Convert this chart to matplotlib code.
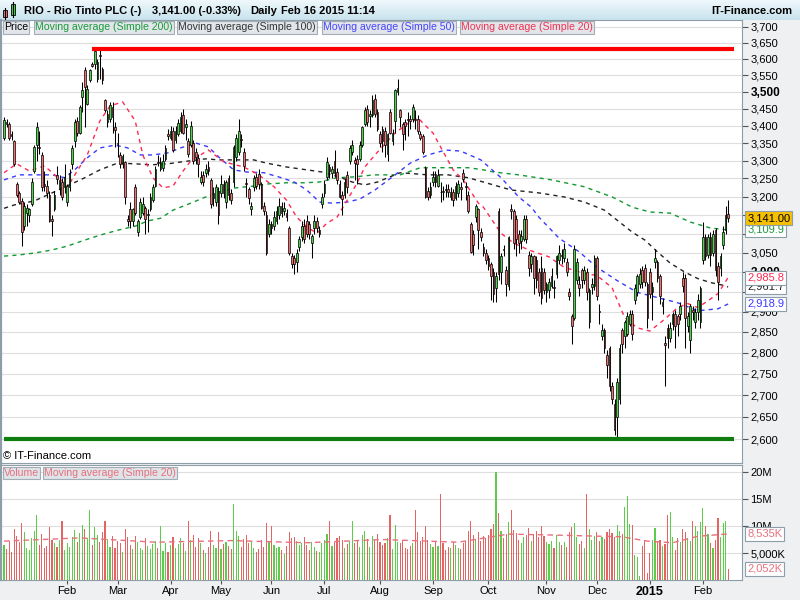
import numpy as np
import matplotlib.pyplot as plt
from matplotlib.colors import LinearSegmentedColormap
from matplotlib.patches import Rectangle

plt.rcParams['font.family'] = ['Liberation Sans', 'DejaVu Sans']

# ── PRICE DATA (one candle per trading day, late Dec 2013 → 16 Feb 2015) ──
opens = [
    3365, 3410, 3405, 3375, 3355, 3235, 3210, 3188, 3120, 3155, 3150, 3180,
    3270, 3345, 3340, 3315, 3235, 3228, 3205, 3138, 3165, 3260, 3220, 3240,
    3225, 3185, 3225, 3290, 3355, 3415, 3380, 3485, 3565, 3465, 3535, 3585,
    3583, 3540, 3612, 3570, 3475, 3410, 3420, 3455, 3395, 3350, 3315, 3290,
    3295, 3138, 3165, 3135, 3225, 3105, 3145, 3155, 3170, 3150, 3165, 3190,
    3230, 3295, 3275, 3278, 3305, 3375, 3365, 3385, 3360, 3375, 3385, 3430,
    3395, 3355, 3345, 3350, 3325, 3308, 3240, 3260, 3265, 3282, 3245, 3195,
    3185, 3215, 3210, 3235, 3185, 3250, 3210, 3240, 3310, 3325, 3362, 3325,
    3237, 3220, 3165, 3225, 3255, 3262, 3235, 3175, 3150, 3100, 3125, 3120,
    3135, 3150, 3175, 3160, 3155, 3115, 3040, 3035, 3025, 3065, 3090, 3120,
    3135, 3125, 3075, 3115, 3135, 3100, 3180, 3210, 3255, 3282, 3265, 3300,
    3268, 3235, 3205, 3205, 3260, 3300, 3325, 3302, 3305, 3305, 3345, 3405,
    3450, 3428, 3430, 3480, 3440, 3375, 3390, 3385, 3320, 3440, 3355, 3415,
    3500, 3445, 3405, 3410, 3420, 3420, 3420, 3420, 3420, 3375, 3370, 3280,
    3215, 3205, 3240, 3262, 3230, 3213, 3215, 3222, 3222, 3200, 3212, 3195,
    3210, 3225, 3265, 3228, 3205, 3125, 3100, 3145, 3165, 3105, 3065, 3050,
    3035, 3020, 3000, 2960, 3160, 3000, 3060, 3005, 2965, 3165, 3160, 3140,
    3100, 3080, 3085, 3140, 3045, 3020, 3040, 3030, 3000, 3010, 3000, 2950,
    2955, 2965, 2962, 2995, 3030, 3045, 3035, 3025, 2948, 2888, 2885, 2980,
    2970, 3005, 2980, 3000, 2875, 2962, 2965, 3035, 2902, 2840, 2855, 2795,
    2810, 2720, 2680, 2650, 2690, 2855, 2840, 2845, 2870, 2895, 2930, 2950,
    2970, 3005, 3010, 2970, 3000, 2950, 3025, 3025, 2990, 2915, 2822, 2860,
    2835, 2870, 2895, 2890, 2895, 2985, 2985, 2865, 2830, 2905, 2875, 2900,
    2875, 3030, 3090, 3045, 3090, 3050, 3110, 3015, 3010, 3070, 3110, 3152,
]
highs = [
    3425, 3420, 3410, 3385, 3360, 3240, 3215, 3195, 3185, 3180, 3170, 3250,
    3345, 3410, 3385, 3325, 3270, 3245, 3215, 3150, 3215, 3285, 3260, 3250,
    3290, 3235, 3275, 3345, 3420, 3425, 3460, 3530, 3575, 3520, 3570, 3590,
    3635, 3600, 3630, 3575, 3480, 3445, 3470, 3470, 3410, 3380, 3325, 3320,
    3300, 3150, 3185, 3170, 3235, 3140, 3195, 3200, 3175, 3165, 3210, 3235,
    3285, 3315, 3310, 3320, 3345, 3390, 3400, 3395, 3400, 3420, 3440, 3450,
    3420, 3365, 3415, 3360, 3335, 3320, 3270, 3270, 3290, 3300, 3250, 3225,
    3235, 3225, 3260, 3245, 3245, 3260, 3220, 3345, 3375, 3420, 3375, 3335,
    3250, 3225, 3185, 3260, 3265, 3275, 3240, 3185, 3160, 3140, 3135, 3160,
    3175, 3195, 3185, 3185, 3165, 3120, 3050, 3045, 3060, 3095, 3135, 3140,
    3150, 3135, 3100, 3150, 3145, 3120, 3210, 3245, 3310, 3290, 3285, 3330,
    3280, 3245, 3215, 3250, 3270, 3345, 3360, 3310, 3315, 3355, 3400, 3455,
    3460, 3445, 3490, 3495, 3450, 3385, 3400, 3395, 3380, 3450, 3390, 3510,
    3540, 3450, 3410, 3420, 3440, 3430, 3465, 3445, 3430, 3385, 3375, 3285,
    3225, 3240, 3270, 3270, 3275, 3240, 3230, 3235, 3235, 3225, 3220, 3240,
    3245, 3240, 3275, 3240, 3215, 3130, 3110, 3180, 3170, 3115, 3075, 3060,
    3045, 3025, 3010, 3000, 3170, 3050, 3070, 3015, 3095, 3180, 3165, 3150,
    3110, 3110, 3150, 3150, 3055, 3050, 3045, 3040, 3010, 3040, 3010, 2975,
    2985, 3010, 2980, 3045, 3070, 3060, 3075, 3035, 2960, 2895, 3070, 3035,
    2990, 3010, 3015, 3010, 2960, 2985, 3045, 3040, 2920, 2870, 2860, 2805,
    2815, 2730, 2690, 2740, 2820, 2860, 2880, 2900, 2905, 2905, 2970, 2995,
    3010, 3015, 3020, 2975, 3010, 2975, 3060, 3030, 2995, 2935, 2840, 2870,
    2875, 2900, 2905, 2895, 2925, 3000, 2995, 2900, 2920, 2915, 2910, 2945,
    2965, 3130, 3100, 3100, 3105, 3110, 3115, 3025, 3050, 3120, 3175, 3190,
]
lows = [
    3360, 3395, 3360, 3360, 3285, 3200, 3180, 3068, 3110, 3120, 3130, 3175,
    3265, 3300, 3320, 3215, 3215, 3195, 3130, 3095, 3160, 3235, 3205, 3190,
    3210, 3175, 3215, 3275, 3340, 3370, 3375, 3440, 3395, 3460, 3530, 3575,
    3570, 3530, 3540, 3525, 3440, 3395, 3410, 3380, 3340, 3310, 3280, 3280,
    3180, 3120, 3115, 3120, 3150, 3095, 3140, 3150, 3100, 3105, 3160, 3185,
    3225, 3285, 3270, 3270, 3300, 3360, 3360, 3325, 3350, 3370, 3380, 3375,
    3360, 3310, 3340, 3290, 3290, 3255, 3235, 3230, 3255, 3260, 3170, 3175,
    3175, 3125, 3200, 3195, 3170, 3190, 3180, 3225, 3300, 3315, 3340, 3270,
    3200, 3180, 3150, 3215, 3220, 3220, 3165, 3150, 3045, 3090, 3100, 3110,
    3125, 3140, 3145, 3150, 3135, 3045, 3010, 2995, 3000, 3055, 3080, 3075,
    3090, 3085, 3035, 3100, 3105, 3090, 3170, 3200, 3245, 3250, 3250, 3255,
    3235, 3195, 3150, 3195, 3210, 3290, 3315, 3245, 3235, 3300, 3340, 3400,
    3400, 3395, 3425, 3425, 3385, 3340, 3325, 3310, 3300, 3375, 3345, 3380,
    3490, 3395, 3330, 3360, 3370, 3390, 3410, 3390, 3375, 3360, 3320, 3195,
    3190, 3195, 3230, 3225, 3225, 3185, 3190, 3200, 3200, 3190, 3175, 3190,
    3200, 3190, 3240, 3190, 3155, 3048, 3045, 3130, 3060, 3080, 3040, 3020,
    3005, 2930, 2925, 2925, 2980, 2970, 3040, 2940, 2955, 3140, 3060, 3040,
    3050, 3060, 3080, 3075, 2990, 3000, 2945, 2960, 2940, 2920, 2945, 2925,
    2935, 2960, 2935, 2985, 3020, 3020, 3025, 2990, 2930, 2820, 2880, 2970,
    2940, 2960, 2970, 2930, 2860, 2945, 2955, 2930, 2870, 2830, 2800, 2740,
    2710, 2680, 2610, 2605, 2680, 2800, 2810, 2840, 2865, 2830, 2920, 2940,
    2960, 2960, 2965, 2860, 2935, 2880, 3010, 2975, 2920, 2895, 2720, 2810,
    2825, 2855, 2810, 2840, 2880, 2950, 2810, 2850, 2800, 2880, 2860, 2880,
    2860, 3020, 3030, 3035, 3015, 3040, 2990, 2930, 2990, 3060, 3100, 3130,
]
closes = [
    3418, 3405, 3365, 3370, 3290, 3205, 3185, 3105, 3175, 3170, 3165, 3240,
    3340, 3395, 3335, 3225, 3230, 3210, 3135, 3135, 3205, 3248, 3245, 3200,
    3255, 3230, 3265, 3335, 3410, 3380, 3455, 3505, 3515, 3510, 3565, 3578,
    3625, 3590, 3608, 3535, 3445, 3435, 3460, 3425, 3388, 3347, 3290, 3312,
    3200, 3135, 3135, 3165, 3155, 3135, 3185, 3180, 3140, 3152, 3200, 3225,
    3275, 3292, 3295, 3300, 3335, 3370, 3385, 3330, 3385, 3408, 3425, 3380,
    3405, 3320, 3400, 3298, 3310, 3290, 3255, 3240, 3275, 3272, 3180, 3210,
    3225, 3150, 3235, 3210, 3240, 3205, 3190, 3340, 3365, 3385, 3360, 3285,
    3235, 3195, 3175, 3250, 3230, 3235, 3170, 3160, 3050, 3125, 3115, 3145,
    3160, 3175, 3155, 3170, 3145, 3050, 3020, 3020, 3050, 3085, 3120, 3085,
    3100, 3100, 3095, 3135, 3115, 3110, 3200, 3235, 3295, 3270, 3275, 3265,
    3245, 3200, 3192, 3240, 3225, 3335, 3345, 3292, 3290, 3345, 3395, 3445,
    3410, 3435, 3475, 3435, 3390, 3350, 3355, 3345, 3375, 3380, 3380, 3505,
    3512, 3425, 3375, 3400, 3418, 3415, 3455, 3418, 3385, 3365, 3325, 3200,
    3200, 3225, 3255, 3240, 3260, 3212, 3212, 3218, 3212, 3212, 3190, 3230,
    3235, 3222, 3248, 3225, 3160, 3052, 3070, 3175, 3110, 3092, 3050, 3030,
    3015, 2990, 2945, 2990, 2995, 3040, 3058, 2970, 3090, 3160, 3075, 3085,
    3075, 3095, 3140, 3085, 3010, 3040, 2985, 2980, 2950, 2935, 2955, 2970,
    2975, 2990, 2960, 3040, 3050, 3040, 3060, 3000, 2940, 2865, 3060, 3025,
    2960, 2980, 3005, 2950, 2955, 2968, 3035, 2940, 2900, 2855, 2810, 2770,
    2720, 2690, 2620, 2730, 2810, 2820, 2875, 2890, 2895, 2845, 2960, 2990,
    2995, 2975, 2975, 2885, 2945, 2962, 3035, 2985, 2940, 2925, 2818, 2835,
    2860, 2895, 2865, 2870, 2915, 2965, 2885, 2890, 2915, 2898, 2900, 2930,
    2960, 3090, 3040, 3090, 3045, 3100, 3005, 2975, 3040, 3105, 3150, 3141,
]
# volume, millions of shares
volume_m = [
    6.5, 5.8, 7.2, 5.1, 9.5, 8.2, 7.0, 10.5, 8.8, 6.0, 5.5, 7.8,
    9.0, 12.0, 6.5, 8.5, 5.9, 6.3, 9.8, 7.5, 6.8, 6.1, 7.4, 11.0,
    5.6, 6.9, 6.2, 8.0, 9.2, 7.1, 8.7, 10.2, 9.5, 7.8, 13.0, 6.5,
    9.8, 8.4, 7.0, 8.9, 11.0, 7.6, 6.2, 8.1, 5.9, 7.3, 6.8, 5.2,
    9.4, 7.9, 6.4, 5.7, 8.2, 7.1, 6.0, 5.5, 7.7, 6.3, 5.8, 6.6,
    7.2, 6.0, 10.0, 5.4, 6.8, 5.1, 6.5, 8.0, 5.9, 6.7, 7.8, 6.9,
    5.3, 11.0, 7.4, 8.3, 6.1, 7.7, 6.9, 5.5, 5.0, 6.2, 9.1, 6.4,
    6.0, 8.8, 5.7, 6.6, 7.0, 6.3, 5.8, 14.0, 9.0, 8.2, 6.1, 7.6,
    8.4, 6.9, 7.1, 6.0, 5.2, 5.8, 7.5, 6.2, 10.5, 7.3, 10.0, 6.4,
    5.9, 6.1, 5.5, 4.9, 6.3, 8.9, 7.7, 8.0, 7.2, 6.5, 6.8, 7.9,
    6.4, 5.6, 7.0, 6.2, 5.4, 5.1, 6.8, 7.4, 8.6, 11.0, 6.3, 7.1,
    7.8, 8.2, 7.5, 6.0, 6.6, 7.2, 11.0, 6.9, 7.3, 6.1, 8.4, 9.0,
    7.6, 6.2, 8.1, 7.4, 8.5, 7.0, 6.4, 6.9, 7.7, 12.0, 5.8, 10.2,
    7.1, 6.8, 7.5, 6.0, 5.7, 6.3, 6.9, 13.0, 8.8, 7.2, 8.0, 10.0,
    7.4, 6.6, 6.1, 7.0, 6.3, 16.0, 6.8, 5.5, 6.2, 5.9, 7.1, 6.4,
    6.0, 5.7, 6.8, 7.3, 9.0, 11.0, 8.4, 7.6, 8.9, 7.2, 8.1, 7.7,
    8.3, 9.5, 10.4, 20.0, 12.5, 9.1, 7.8, 8.6, 10.8, 13.0, 9.2, 8.7,
    7.4, 6.8, 7.9, 8.3, 9.6, 7.2, 8.5, 9.0, 7.9, 10.0, 8.1, 7.0,
    6.6, 7.3, 5.9, 8.4, 7.1, 6.5, 7.0, 6.2, 8.8, 9.9, 10.5, 8.0,
    6.7, 7.2, 6.0, 16.0, 9.4, 7.5, 8.1, 8.9, 7.3, 8.0, 7.6, 8.8,
    9.4, 8.7, 7.9, 10.2, 9.1, 8.5, 13.5, 15.6, 10.4, 10.2, 4.6, 4.3,
    0.7, 6.3, 7.4, 1.3, 5.0, 7.4, 9.6, 7.3, 7.5, 6.3, 6.7, 12.0,
    12.6, 8.0, 5.5, 7.7, 7.0, 9.4, 8.9, 7.7, 7.2, 11.0, 10.0, 9.0,
    10.8, 13.3, 10.0, 8.5, 6.9, 5.9, 7.5, 11.4, 8.0, 10.6, 11.0, 2.052,
]

# ── MOVING AVERAGES (at sample bars) ──
ma20_idx = [0, 5, 10, 16, 23, 25, 29, 33, 38, 42, 47, 52, 55, 59, 63, 67, 71, 74, 81, 87,
            95, 101, 107, 112, 116, 120, 124, 128, 132, 136, 140, 143, 147, 155, 162, 164,
            170, 178, 182, 188, 190, 197, 202, 208, 216, 222, 230, 235, 241, 246, 251,
            256, 262, 267, 271, 275, 279, 283, 287]
ma20_val = [3266, 3291, 3271, 3285, 3243, 3224, 3271, 3316, 3414, 3458, 3470, 3414, 3316,
            3252, 3224, 3229, 3271, 3299, 3330, 3297, 3282, 3260, 3227, 3190, 3144, 3118,
            3101, 3128, 3144, 3190, 3238, 3282, 3316, 3379, 3417, 3423, 3379, 3274, 3246,
            3182, 3171, 3101, 3075, 3057, 3039, 3012, 2996, 2991, 2960, 2885, 2860, 2852,
            2882, 2910, 2920, 2910, 2927, 2945, 2985.8]
ma50_idx = [0, 6, 12, 19, 24, 28, 33, 38, 44, 49, 54, 59, 65, 70, 76, 81, 85, 91, 96, 103,
            109, 115, 120, 125, 130, 136, 141, 147, 155, 161, 168, 175, 181, 189, 197, 204,
            209, 212, 220, 228, 235, 243, 251, 259, 267, 275, 283, 287]
ma50_val = [3246, 3260, 3260, 3260, 3252, 3274, 3308, 3336, 3344, 3336, 3316, 3316, 3322,
            3336, 3350, 3339, 3311, 3274, 3268, 3266, 3254, 3240, 3218, 3185, 3182, 3185,
            3193, 3218, 3260, 3293, 3316, 3330, 3327, 3302, 3252, 3199, 3171, 3144, 3088,
            3052, 3012, 2978, 2948, 2935, 2922, 2902, 2907, 2918.9]
ma100_idx = [0, 4, 12, 19, 25, 32, 38, 45, 52, 58, 65, 71, 80, 85, 92, 99, 104, 112, 120,
             126, 133, 138, 143, 148, 157, 168, 176, 184, 190, 194, 201, 212, 222, 230, 238,
             243, 249, 254, 259, 264, 270, 275, 280, 285, 287]
ma100_val = [3168, 3177, 3188, 3210, 3229, 3252, 3274, 3293, 3291, 3288, 3291, 3297, 3305,
             3302, 3302, 3302, 3293, 3282, 3274, 3268, 3254, 3240, 3232, 3240, 3266, 3260,
             3260, 3252, 3240, 3232, 3218, 3210, 3199, 3185, 3163, 3136, 3104, 3083, 3052,
             3023, 2999, 2983, 2973, 2966, 2961.7]
ma200_idx = [0, 6, 12, 19, 25, 32, 38, 45, 52, 57, 62, 67, 74, 80, 85, 92, 99, 105, 112,
             119, 125, 132, 138, 147, 157, 165, 176, 184, 190, 194, 204, 217, 230, 241, 249,
             256, 264, 272, 280, 287]
ma200_val = [3041, 3044, 3049, 3057, 3067, 3083, 3096, 3109, 3120, 3134, 3141, 3163, 3182,
             3199, 3212, 3224, 3229, 3235, 3238, 3238, 3240, 3252, 3254, 3260, 3260, 3280,
             3280, 3280, 3274, 3268, 3260, 3246, 3227, 3199, 3171, 3158, 3155, 3131, 3115,
             3109.9]
vol_ma_idx = [0, 30, 60, 90, 120, 150, 180, 200, 220, 245, 255, 265, 275, 287]
vol_ma_val = [7.2, 7.8, 7.0, 7.3, 6.9, 7.5, 7.0, 8.5, 8.3, 8.0, 7.2, 6.9, 8.1, 8.535]

# horizontal support / resistance levels
resistance, resistance_from = 3632, 35
support, support_from = 2600, 0

# x axis: first trading day of each month
month_idx = [25, 45, 66, 86, 106, 127, 149, 170, 192, 215, 235, 256, 277]
month_lbl = ['Feb', 'Mar', 'Apr', 'May', 'Jun', 'Jul', 'Aug', 'Sep', 'Oct', 'Nov', 'Dec',
             '2015', 'Feb']
price_ticks = list(range(2600, 3701, 50))
hidden_ticks = {3150, 3100, 2950}      # covered by the last-value boxes
vol_ticks = [5, 10, 15, 20]

# ── STYLE ──
UP, DOWN = '#4fd24f', '#ee7272'
C200, C100, C50, C20 = '#119933', '#222222', '#3a3aff', '#ff2a55'
VOLPINK = '#e8707e'
FRAME = '#8e9ea9'

def fx(x):
    return x / 800

def fy(y):
    return 1 - y / 600

fig = plt.figure(figsize=(8, 6), dpi=100, facecolor='#eef0f2')

# ── title bar ──
ax_t = fig.add_axes([0, fy(20), 1, 20 / 600])
cmap_t = LinearSegmentedColormap.from_list('bar', ['#eef8fc', '#c9e3ee'])
ax_t.imshow(np.linspace(0, 1, 20).reshape(-1, 1), aspect='auto', cmap=cmap_t,
            extent=[0, 800, 20, 0])
ax_t.set_xlim(0, 800)
ax_t.set_ylim(20, 0)
ax_t.axis('off')
ax_t.plot([5, 5], [8, 19], color='black', lw=0.8)
ax_t.add_patch(Rectangle((3, 10), 4, 7, facecolor=DOWN, edgecolor='black', lw=0.6))
ax_t.plot([13, 13], [2, 17], color='black', lw=0.8)
ax_t.add_patch(Rectangle((11, 4), 4, 11, facecolor=UP, edgecolor='black', lw=0.6))
ax_t.text(24, 11, 'RIO - Rio Tinto PLC (-)', fontsize=8, fontweight='bold', va='center')
ax_t.text(152, 11, '3,141.00 (-0.33%)', fontsize=8, fontweight='bold', va='center')
ax_t.text(250, 11, 'Daily', fontsize=8, fontweight='bold', va='center')
ax_t.text(281, 11, 'Feb 16 2015 11:14', fontsize=8, fontweight='bold', va='center')
ax_t.text(792, 11, 'IT-Finance.com', fontsize=8, fontweight='bold', va='center', ha='right')

# ── price panel ──
ax = fig.add_axes([fx(1), fy(463), fx(741), 443 / 600])
ax.set_yscale('log')
idx = np.arange(len(closes))
o = np.array(opens, float)
c = np.array(closes, float)
up = c >= o
ax.vlines(idx, lows, highs, color='black', lw=0.75, zorder=3)
body_h = np.maximum(np.abs(c - o), 1.5)
ax.bar(idx, body_h, bottom=np.minimum(o, c), width=0.68,
       color=np.where(up, UP, DOWN), edgecolor='black', linewidth=0.5, zorder=4)

for xs, ys, col in [(ma200_idx, ma200_val, C200), (ma100_idx, ma100_val, C100),
                    (ma50_idx, ma50_val, C50), (ma20_idx, ma20_val, C20)]:
    ax.plot(xs, ys, color=col, lw=1.0, dashes=(3, 3), zorder=2)

ax.hlines(resistance, resistance_from, 289.3, color='#ff0000', lw=3, zorder=5)
ax.hlines(support, support_from, 289.3, color='#0f7d0f', lw=3, zorder=5)

ax.set_xlim(-1.2, 292.5)
ax.set_ylim(2547.5, 3722)
ax.yaxis.tick_right()
ax.set_yticks(price_ticks, ['' if v in hidden_ticks else f'{v:,}' for v in price_ticks])
ax.yaxis.set_minor_locator(plt.NullLocator())
ax.tick_params(axis='y', which='both', length=4, width=0.8, color='#555555',
               labelsize=8, pad=2)
for lbl in ax.get_yticklabels():
    if lbl.get_text() in ('3,500', '3,000'):
        lbl.set_fontweight('bold')
        lbl.set_fontsize(8.5)
ax.tick_params(axis='x', length=0, labelbottom=False)
ax.grid(axis='y', color='#dedede', lw=0.8, zorder=0)
for s in ax.spines.values():
    s.set_color(FRAME)
ax.spines['left'].set_linewidth(1.6)

# last-value boxes on the price scale
def value_box(axis, v, txt, fg, bg='white', z=6):
    axis.text(1.007, v, txt, transform=axis.get_yaxis_transform(), fontsize=8,
              color=fg, va='center', ha='left', zorder=z, clip_on=False,
              bbox=dict(boxstyle='square,pad=0.18', facecolor=bg, edgecolor=FRAME, lw=0.8))

value_box(ax, ma200_val[-1], f'{ma200_val[-1]:,.1f}', '#1a9a3a')
value_box(ax, ma100_val[-1], f'{ma100_val[-1]:,.1f}', C100, z=6)
value_box(ax, ma20_val[-1], f'{ma20_val[-1]:,.1f}', C20, z=7)
value_box(ax, ma50_val[-1], f'{ma50_val[-1]:,.1f}', C50, z=7)
value_box(ax, closes[-1], f'{closes[-1]:,.2f}', 'black', bg='#f5c000', z=8)

# legend boxes
leg_style = dict(boxstyle='square,pad=0.12', facecolor='#e2e6ea', edgecolor='#a3adb6', lw=0.8)
for x0, txt, col in [(4, 'Price', 'black'),
                     (35, 'Moving average (Simple 200)', '#1a9a3a'),
                     (178, 'Moving average (Simple 100)', '#333333'),
                     (323, 'Moving average (Simple 50)', '#4444ff'),
                     (461, 'Moving average (Simple 20)', '#ee3355')]:
    fig.text(fx(x0), fy(27.5), txt, fontsize=7.6, color=col, va='center', ha='left',
             bbox=leg_style, zorder=10)
fig.text(fx(3), fy(456), '\u00a9 IT-Finance.com', fontsize=8, va='center', ha='left')

# ── volume panel ──
axv = fig.add_axes([fx(1), fy(580), fx(741), 115 / 600])
vol = np.array(volume_m)
axv.bar(idx, vol, width=0.45, color=np.where(up, '#5ccc4a', '#e46464'), zorder=3)
axv.plot(vol_ma_idx, vol_ma_val, color=VOLPINK, lw=1.0, dashes=(4, 3), zorder=4)
axv.set_xlim(-1.2, 292.5)
axv.set_ylim(0, 21.3)
axv.yaxis.tick_right()
axv.set_yticks(vol_ticks, ['5,000K', '10M', '15M', '20M'])
axv.tick_params(axis='y', length=4, width=0.8, color='#555555', labelsize=8, pad=2)
axv.grid(axis='y', color='#dedede', lw=0.8, zorder=0)
axv.set_xticks(month_idx, month_lbl)
axv.tick_params(axis='x', length=3, width=0.8, color='#555555', labelsize=8, pad=1.5)
for lbl in axv.get_xticklabels():
    if lbl.get_text() == '2015':
        lbl.set_fontweight('bold')
        lbl.set_fontsize(9)
for s in axv.spines.values():
    s.set_color(FRAME)
axv.spines['left'].set_linewidth(1.6)

value_box(axv, vol_ma_val[-1], f'{vol_ma_val[-1] * 1000:,.0f}K', VOLPINK, z=7)
value_box(axv, volume_m[-1], f'{volume_m[-1] * 1000:,.0f}K', VOLPINK, z=7)

vleg = dict(boxstyle='square,pad=0.12', facecolor='#dfe4e8', edgecolor='#a3adb6', lw=0.8)
fig.text(fx(4), fy(473), 'Volume', fontsize=7.6, color=VOLPINK, va='center', bbox=vleg)
fig.text(fx(44), fy(473), 'Moving average (Simple 20)', fontsize=7.6, color=VOLPINK,
         va='center', bbox=vleg)

fig.savefig('out.png', dpi=100, facecolor=fig.get_facecolor())
